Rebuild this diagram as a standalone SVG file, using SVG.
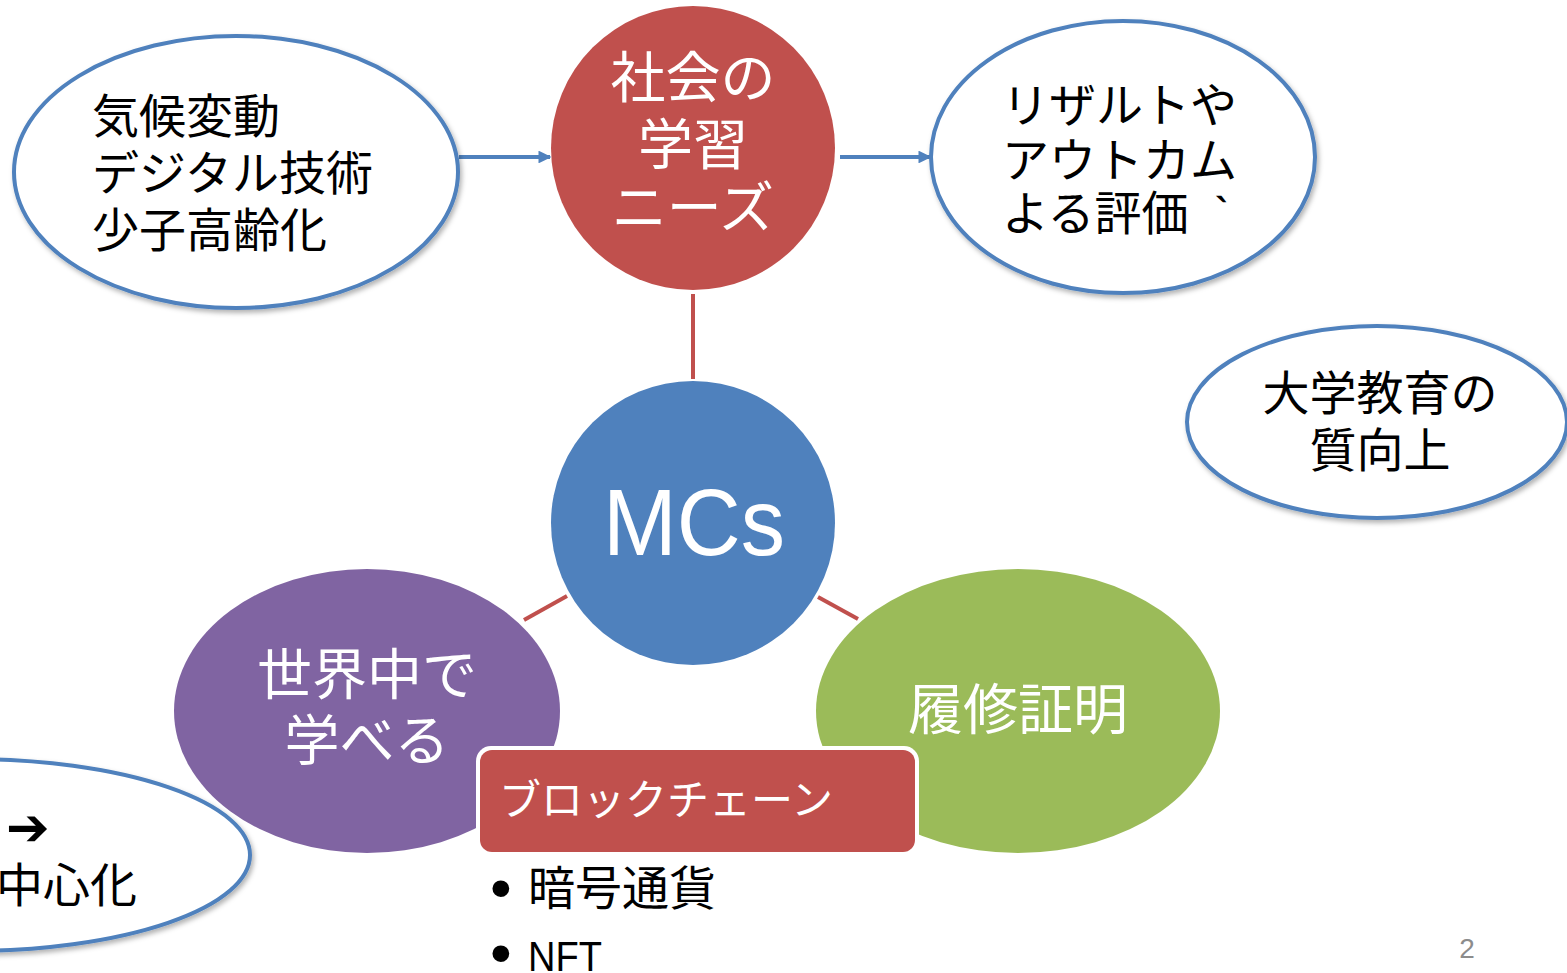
<svg xmlns="http://www.w3.org/2000/svg" width="1567" height="973" viewBox="0 0 1567 973">
<style>
.jp{font-family:"Noto Sans CJK JP","Noto Sans",sans-serif}
.blk{fill:#000}
.wht{fill:#fff}
.out{fill:#fff;stroke:#4F81BD;stroke-width:4;filter:url(#sh)}
.conn-blue{stroke:#4F81BD;stroke-width:4;fill:none;marker-end:url(#ah)}
.conn-red{stroke:#C0504D;stroke-width:4;fill:none}
.bul{font-family:"Liberation Sans",Arial,sans-serif;font-size:62px;fill:#000}
</style>
<defs>
<filter id="sh" x="-10%" y="-10%" width="125%" height="130%">
<feDropShadow dx="2" dy="3" stdDeviation="2.5" flood-color="#000" flood-opacity="0.3"/>
</filter>
<marker id="ah" viewBox="0 0 10 10" refX="9" refY="5" markerWidth="3.2" markerHeight="3.2" orient="auto" markerUnits="strokeWidth">
<path d="M0,0 L10,5 L0,10 z" fill="#4F81BD"/>
</marker>
</defs>
<rect width="1567" height="973" fill="#fff"/>

<g id="connectors">
<line class="conn-blue" x1="459" y1="157" x2="550" y2="157"/>
<line class="conn-blue" x1="840" y1="157" x2="930" y2="157"/>
<line class="conn-red" x1="693" y1="294" x2="693" y2="379"/>
<line class="conn-red" x1="524" y1="620" x2="567" y2="596"/>
<line class="conn-red" x1="818" y1="597" x2="858" y2="619"/>
</g>

<g id="node-drivers">
<ellipse class="out" cx="236" cy="172" rx="222" ry="136"/>
<text class="jp blk" font-size="47"><tspan x="92" y="133">気候変動</tspan><tspan x="92" y="190">デジタル技術</tspan><tspan x="92" y="247">少子高齢化</tspan></text>
</g>

<g id="node-needs">
<circle cx="693" cy="148" r="142" fill="#C0504D"/>
<text class="jp wht" font-size="55" text-anchor="middle"><tspan x="693" y="97">社会の</tspan><tspan x="693" y="164">学習</tspan><tspan x="693" y="227">ニーズ</tspan></text>
</g>

<g id="node-results">
<ellipse class="out" cx="1123" cy="157" rx="192" ry="136"/>
<text class="jp blk" font-size="47"><tspan x="1002" y="122">リザルトや</tspan><tspan x="1002" y="177">アウトカム</tspan><tspan x="1002" y="230">よる評価</tspan><tspan x="1200" y="240">｀</tspan></text>
</g>

<g id="node-quality">
<ellipse class="out" cx="1377" cy="422" rx="190" ry="96"/>
<text class="jp blk" font-size="47" text-anchor="middle"><tspan x="1380" y="410">大学教育の</tspan><tspan x="1380" y="467">質向上</tspan></text>
</g>

<g id="node-mcs">
<circle cx="693" cy="523" r="142" fill="#4F81BD"/>
<text x="694" y="555" font-family="'Liberation Sans',Arial,sans-serif" font-size="95" fill="#fff" text-anchor="middle" textLength="182" lengthAdjust="spacingAndGlyphs">MCs</text>
</g>

<g id="node-world">
<ellipse cx="367" cy="711" rx="193" ry="142" fill="#8064A2"/>
<text class="jp wht" font-size="55" text-anchor="middle"><tspan x="367" y="694">世界中で</tspan><tspan x="367" y="760">学べる</tspan></text>
</g>

<g id="node-cert">
<ellipse cx="1018" cy="711" rx="202" ry="142" fill="#9BBB59"/>
<text class="jp wht" font-size="55" text-anchor="middle" x="1018" y="729">履修証明</text>
</g>

<g id="node-decentral">
<ellipse class="out" cx="-30" cy="855" rx="280" ry="96"/>
<text x="6" y="845" font-family="'DejaVu Sans',sans-serif" font-size="52" font-weight="bold" fill="#000">➔</text>
<text class="jp blk" font-size="47" x="-4" y="902">中心化</text>
</g>

<g id="node-blockchain">
<rect x="476" y="746" width="443" height="110" rx="15" fill="#fff"/>
<rect x="480" y="750" width="435" height="102" rx="12" fill="#C0504D"/>
<text class="jp wht" font-size="42" x="499" y="815">ブロックチェーン</text>
<text class="bul" x="490" y="909">•</text>
<text class="jp blk" font-size="47" x="528" y="905">暗号通貨</text>
<text class="bul" x="490" y="974">•</text>
<text font-family="'Liberation Sans',Arial,sans-serif" font-size="43" fill="#000" x="528" y="971" textLength="74" lengthAdjust="spacingAndGlyphs">NFT</text>
</g>

<text x="1467" y="958" font-family="'Liberation Sans',Arial,sans-serif" font-size="28" fill="#8C8C8C" text-anchor="middle">2</text>
</svg>
